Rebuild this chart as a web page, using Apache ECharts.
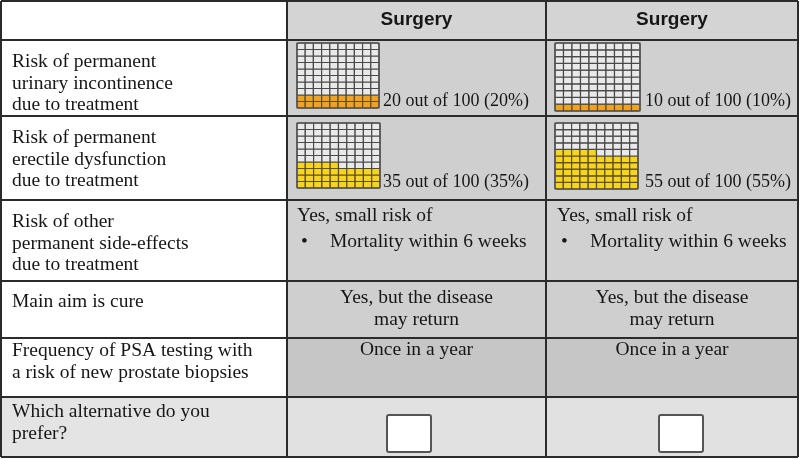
<!DOCTYPE html>
<html>
<head>
<meta charset="utf-8">
<script src="https://cdn.jsdelivr.net/npm/echarts@6/dist/echarts.min.js"></script>
<style>html,body{margin:0;padding:0;background:#fff}#c{width:800px;height:459px}</style>
</head>
<body>
<div id="c"></div>
<script>
// ---- data ----
const columnHeaders = ['Surgery', 'Surgery'];
const rowLabels = [
  ['Risk of permanent', 'urinary incontinence', 'due to treatment'],
  ['Risk of permanent', 'erectile dysfunction', 'due to treatment'],
  ['Risk of other', 'permanent side-effects', 'due to treatment'],
  ['Main aim is cure'],
  ['Frequency of PSA testing with', 'a risk of new prostate biopsies'],
  ['Which alternative do you', 'prefer?']
];
const urinaryRisk = [20, 10];     // out of 100
const erectileRisk = [35, 55];    // out of 100
const sideEffectsIntro = ['Yes, small risk of', 'Yes, small risk of'];
const sideEffectsItem = ['Mortality within 6 weeks', 'Mortality within 6 weeks'];
const aimText = [['Yes, but the disease', 'may return'], ['Yes, but the disease', 'may return']];
const psaText = ['Once in a year', 'Once in a year'];

// ---- layout ----
const colX = [1, 287, 546, 798];
const rowY = [1, 40, 116, 200, 281, 338, 397, 457];
const serif = '"Liberation Serif", "Times New Roman", serif';
const sans = '"Liberation Sans", Arial, sans-serif';
const bgData = ['#d4d4d4', '#d0d0d0', '#cfcfcf', '#d1d1d1', '#cfcfcf', '#c6c6c6', '#e1e1e1'];
const bgLeft = ['#ffffff', '#ffffff', '#ffffff', '#ffffff', '#ffffff', '#ffffff', '#e4e4e4'];

const graphics = [];
for (let r = 0; r < 7; r++) {
  for (let c = 0; c < 3; c++) {
    graphics.push({type: 'rect', z: 0, shape: {x: colX[c], y: rowY[r], width: colX[c+1]-colX[c], height: rowY[r+1]-rowY[r]},
      style: {fill: c === 0 ? bgLeft[r] : bgData[r]}});
  }
}
colX.forEach(x => graphics.push({type: 'line', z: 5, shape: {x1: x, y1: rowY[0], x2: x, y2: rowY[7]}, style: {stroke: '#2b2b2b', lineWidth: 2}}));
rowY.forEach(y => graphics.push({type: 'line', z: 5, shape: {x1: colX[0], y1: y, x2: colX[3], y2: y}, style: {stroke: '#2b2b2b', lineWidth: 2}}));

function txt(t, x, y, opts) {
  opts = opts || {};
  graphics.push({type: 'text', z: 10, style: {
    text: t, x: x, y: y, fill: '#161616',
    font: (opts.bold ? 'bold ' : '') + (opts.size || 19.5) + 'px ' + (opts.family || serif),
    align: opts.align || 'left', verticalAlign: 'middle',
    textAlign: opts.align || 'left', textVerticalAlign: 'middle'
  }});
}
columnHeaders.forEach((h, i) => txt(h, (colX[i+1] + colX[i+2]) / 2, 20, {bold: true, family: sans, size: 19, align: 'center'}));
const labelStart = [62, 138, 222, 302, 351, 412];
rowLabels.forEach((lines, r) => lines.forEach((l, k) => txt(l, 12, labelStart[r] + k * 21.5)));
const riskTextX = [383, 645];
urinaryRisk.forEach((v, i) => txt(v + ' out of 100 (' + v + '%)', riskTextX[i], 101, {size: 18}));
erectileRisk.forEach((v, i) => txt(v + ' out of 100 (' + v + '%)', riskTextX[i], 182, {size: 18}));
const seX = [297, 557];
sideEffectsIntro.forEach((t, i) => txt(t, seX[i], 216));
sideEffectsItem.forEach((t, i) => { txt('\u2022', seX[i] + 4, 242); txt(t, seX[i] + 33, 242); });
aimText.forEach((lines, i) => lines.forEach((l, k) => txt(l, (colX[i+1] + colX[i+2]) / 2, 298 + k * 22, {align: 'center'})));
psaText.forEach((t, i) => txt(t, (colX[i+1] + colX[i+2]) / 2, 350, {align: 'center'}));
const boxCx = [409, 681];
boxCx.forEach(cx => graphics.push({type: 'rect', z: 10, shape: {x: cx - 22, y: 415, width: 44, height: 37, r: 2},
  style: {fill: '#ffffff', stroke: '#555555', lineWidth: 2}}));

// ---- icon arrays ----
const arrays = [
  {count: urinaryRisk[0], color: '#f2a21e', box: {left: 297, top: 43, width: 82, height: 65}},
  {count: urinaryRisk[1], color: '#f2a21e', box: {left: 555, top: 43, width: 85, height: 68}},
  {count: erectileRisk[0], color: '#f7d51c', box: {left: 297, top: 123, width: 83, height: 65}},
  {count: erectileRisk[1], color: '#f7d51c', box: {left: 555, top: 123, width: 83, height: 66}}
];
function cells(count) {
  const d = [];
  for (let row = 0; row < 10; row++) for (let col = 0; col < 10; col++) {
    const idx = row * 10 + col; // filled from bottom row, left to right
    d.push([col, row, idx < count ? 1 : 0]);
  }
  return d;
}
const grids = [], xAxes = [], yAxes = [], series = [];
arrays.forEach((a, i) => {
  grids.push(Object.assign({}, a.box));
  xAxes.push({type: 'value', gridIndex: i, min: 0, max: 10, show: false});
  yAxes.push({type: 'value', gridIndex: i, min: 0, max: 10, show: false});
  series.push({
    type: 'custom', xAxisIndex: i, yAxisIndex: i, z: 20, data: cells(a.count),
    renderItem: (params, api) => {
      const p = api.coord([api.value(0), api.value(1) + 1]);
      const s = api.size([1, 1]);
      const filled = api.value(2) === 1;
      return {type: 'rect', shape: {x: p[0], y: p[1], width: s[0], height: s[1]},
        style: {fill: filled ? a.color : '#e9e9e9', stroke: filled ? '#5e4f28' : '#4a4a4a', lineWidth: 1.2}};
    }
  });
  series.push({
    type: 'custom', xAxisIndex: i, yAxisIndex: i, z: 21, data: [[0, 0]],
    renderItem: (params, api) => {
      const p = api.coord([0, 10]);
      const s = api.size([10, 10]);
      return {type: 'rect', shape: {x: p[0], y: p[1], width: s[0], height: s[1], r: 2},
        style: {fill: 'none', stroke: '#555555', lineWidth: 1.5}};
    }
  });
});

const chart = echarts.init(document.getElementById('c'), null, {renderer: 'canvas'});
chart.setOption({
  animation: false,
  backgroundColor: '#ffffff',
  grid: grids, xAxis: xAxes, yAxis: yAxes,
  series: series,
  graphic: {elements: graphics}
});
</script>
</body>
</html>
